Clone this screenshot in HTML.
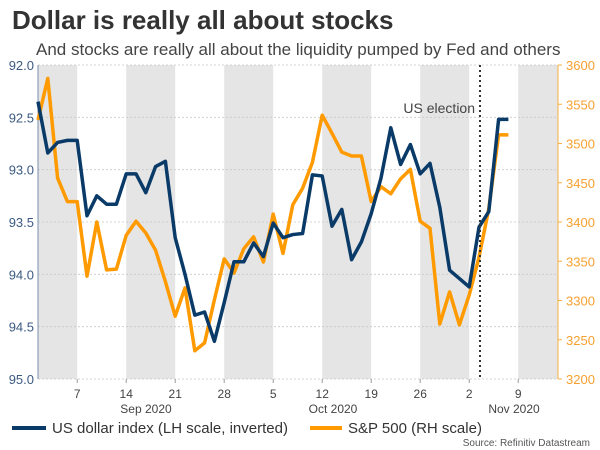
<!DOCTYPE html>
<html><head><meta charset="utf-8"><style>
body{margin:0;background:#fff;}
svg{display:block;font-family:"Liberation Sans",Arial,sans-serif;}
</style></head><body>
<svg id="chart" width="600" height="450" viewBox="0 0 600 450">
<text x="12" y="29" font-size="26" font-weight="bold" fill="#333">Dollar is really all about stocks</text>
<text x="36" y="55" font-size="17" fill="#444">And stocks are really all about the liquidity pumped by Fed and others</text>
<g id="bands"></g><g id="grid"></g><g id="axes"></g><g id="series"></g>
<line x1="480" y1="65" x2="480" y2="379" stroke="#333" stroke-width="2" stroke-dasharray="2,3"/>
<text x="475" y="113" font-size="14" fill="#444" text-anchor="end">US election</text>
<text x="146" y="413" font-size="12" fill="#444" text-anchor="middle">Sep 2020</text>
<text x="333" y="413" font-size="12" fill="#444" text-anchor="middle">Oct 2020</text>
<text x="514" y="413" font-size="12" fill="#444" text-anchor="middle">Nov 2020</text>
<g><line x1="12" y1="428" x2="46" y2="428" stroke="#0a3a68" stroke-width="4"/><text x="52" y="433" font-size="15" fill="#333">US dollar index (LH scale, inverted)</text></g>
<g><line x1="310" y1="428" x2="342" y2="428" stroke="#ff9a00" stroke-width="4"/><text x="348" y="433" font-size="15" fill="#333">S&amp;P 500 (RH scale)</text></g>
<text x="590" y="446" font-size="10" fill="#555" text-anchor="end">Source: Refinitiv Datastream</text>
</svg>
<script>
const dxy=[92.35,92.84,92.74,92.72,92.72,93.44,93.25,93.33,93.33,93.04,93.04,93.22,92.97,92.92,93.65,94.0,94.39,94.36,94.64,94.27,93.88,93.88,93.70,93.83,93.51,93.65,93.62,93.61,93.05,93.06,93.54,93.38,93.86,93.69,93.42,93.08,92.60,92.95,92.76,93.04,92.94,93.36,93.96,94.04,94.12,93.55,93.40,92.52,92.52];
const spx=[3530,3583,3456,3426,3426,3331,3400,3339,3340,3383,3401,3386,3364,3324,3280,3316,3236,3246,3301,3353,3335,3366,3381,3349,3410,3360,3422,3443,3476,3536,3513,3489,3484,3484,3426,3445,3436,3455,3467,3401,3392,3270,3311,3269,3307,3355,3417,3511,3511];
const xTickIdx=[4,9,14,19,24,29,34,39,44,49];
const xTickLabels=["7","14","21","28","5","12","19","26","2","9"];
const leftTicks=[92.0,92.5,93.0,93.5,94.0,94.5,95.0];
const rightTicks=[3200,3250,3300,3350,3400,3450,3500,3550,3600];
const NS="http://www.w3.org/2000/svg";
const X0=38,X1=558,Y0=65,Y1=379,STEP=9.8;
const x=i=>X0+i*STEP;
const yL=v=>Y0+(v-92)/3*(Y1-Y0);
const yR=v=>Y1-(v-3200)/400*(Y1-Y0);
function mk(tag,attrs,parent){const e=document.createElementNS(NS,tag);for(const k in attrs)e.setAttribute(k,attrs[k]);document.getElementById(parent).appendChild(e);return e;}
let edges=[X0].concat(xTickIdx.map(x)).concat([X1]);
for(let k=0;k<edges.length-1;k++){if(k%2===0){const r=mk('rect',{x:edges[k],y:Y0,width:edges[k+1]-edges[k],height:Y1-Y0,fill:'#e5e5e5'},'bands');

}}
leftTicks.forEach(v=>{const g=mk('line',{x1:X0,x2:X1,y1:yL(v),y2:yL(v),stroke:'#c8c8c8','stroke-width':0.8,'stroke-dasharray':'2,2'},'grid');


const t=mk('text',{x:34,y:yL(v)+5,'font-size':13,fill:'#3c5a82','text-anchor':'end'},'axes');t.textContent=v.toFixed(1);

});
rightTicks.forEach(v=>{const t=mk('text',{x:566,y:yR(v)+5,'font-size':13,fill:'#f7a030'},'axes');t.textContent=v;


mk('line',{x1:X1,x2:X1+4,y1:yR(v),y2:yR(v),stroke:'#f7b040','stroke-width':1},'axes');});
mk('line',{x1:X0,x2:X0,y1:Y0,y2:Y1,stroke:'#7890b0','stroke-width':1},'axes');
mk('line',{x1:X1,x2:X1,y1:Y0,y2:Y1,stroke:'#f7b040','stroke-width':1},'axes');
xTickIdx.forEach((i,k)=>{mk('line',{x1:x(i),x2:x(i),y1:Y1,y2:Y1+4,stroke:'#999'},'axes');
const t=mk('text',{x:x(i),y:398,'font-size':12,fill:'#444','text-anchor':'middle'},'axes');t.textContent=xTickLabels[k];

});
const sp=mk('polyline',{points:spx.map((v,i)=>x(i)+','+yR(v)).join(' '),fill:'none',stroke:'#ff9a00','stroke-width':3.5,'stroke-linejoin':'round'},'series');


const dl=mk('polyline',{points:dxy.map((v,i)=>x(i)+','+yL(v)).join(' '),fill:'none',stroke:'#0a3a68','stroke-width':3.5,'stroke-linejoin':'round'},'series');


</script>
</body></html>
